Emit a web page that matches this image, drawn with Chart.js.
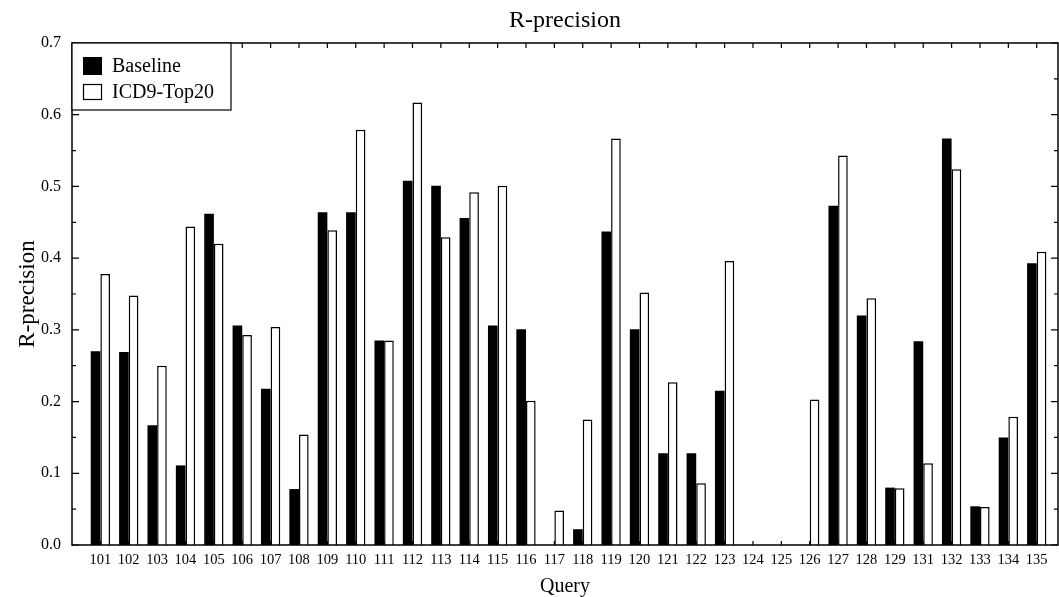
<!DOCTYPE html>
<html>
<head>
<meta charset="utf-8">
<script src="https://cdn.jsdelivr.net/npm/chart.js@4/dist/chart.umd.min.js"></script>
<style>
  html, body { margin: 0; padding: 0; background: #fff; }
  #wrap { width: 1059px; height: 597px; }
</style>
</head>
<body>
<div id="wrap"><canvas id="chart" width="1059" height="597"></canvas></div>
<script>
// query ids (130 is missing in the original figure)
const queries = ['101', '102', '103', '104', '105', '106', '107', '108', '109', '110', '111',
    '112', '113', '114', '115', '116', '117', '118', '119', '120', '121', '122', '123',
    '124', '125', '126', '127', '128', '129', '131', '132', '133', '134', '135']
const baseline = [0.270, 0.269, 0.167, 0.111, 0.462, 0.306, 0.218, 0.078, 0.464, 0.464, 0.285,
    0.508, 0.501, 0.456, 0.306, 0.301, 0.000, 0.022, 0.437, 0.301, 0.128, 0.128, 0.215,
    0.000, 0.000, 0.000, 0.473, 0.320, 0.080, 0.284, 0.567, 0.054, 0.150, 0.393]
const icd9top20 = [0.378, 0.348, 0.250, 0.444, 0.420, 0.293, 0.304, 0.154, 0.439, 0.579, 0.285,
    0.617, 0.429, 0.492, 0.501, 0.201, 0.048, 0.175, 0.567, 0.352, 0.227, 0.086, 0.396,
    0.000, 0.000, 0.203, 0.543, 0.344, 0.079, 0.114, 0.524, 0.053, 0.179, 0.409]
const yTicks = [0, 0.1, 0.2, 0.3, 0.4, 0.5, 0.6, 0.7]

Chart.defaults.font.family = "'Liberation Serif', 'DejaVu Serif', serif"
Chart.defaults.color = '#000'

const toPoints = arr => arr.map((v, i) => ({x: i, y: v}))

// frame, inward ticks and the boxed legend
const framePlugin = {
    id: 'frame',
    afterDatasetsDraw(chart) {
        const ctx = chart.ctx
        const {left, right, top, bottom} = chart.chartArea
        const xs = chart.scales.x
        const ys = chart.scales.y
        ctx.save()
        ctx.strokeStyle = '#000'
        ctx.lineWidth = 1.5
        ctx.strokeRect(left, top, right - left, bottom - top)

        ctx.lineWidth = 1.2
        ctx.beginPath()
        for (let k = 0; k <= 14; k++) {
            const y = ys.getPixelForValue(k * 0.05)
            const len = k % 2 === 0 ? 7 : 4
            ctx.moveTo(left, y); ctx.lineTo(left + len, y)
            ctx.moveTo(right, y); ctx.lineTo(right - len, y)
        }
        queries.forEach((q, i) => {
            const x = xs.getPixelForValue(i)
            ctx.moveTo(x, top); ctx.lineTo(x, top + 5)
            ctx.moveTo(x, bottom); ctx.lineTo(x, bottom - 4)
        })
        ctx.stroke()

        // legend box
        const lx = left, ly = top, lw = 159, lh = 67
        ctx.fillStyle = '#fff'
        ctx.fillRect(lx, ly, lw, lh)
        ctx.lineWidth = 1.2
        ctx.strokeRect(lx, ly, lw, lh)
        const ds = chart.data.datasets
        ctx.font = "20px 'Liberation Serif', serif"
        ctx.textBaseline = 'middle'
        ctx.textAlign = 'left'
        ctx.fillStyle = '#000'
        ctx.fillRect(lx + 11, ly + 14, 19, 18)
        ctx.fillText(ds[0].label, lx + 40, ly + 24)
        ctx.fillStyle = '#fff'
        ctx.fillRect(lx + 11, ly + 41, 19, 16)
        ctx.strokeRect(lx + 11.5, ly + 41.5, 18, 15)
        ctx.fillStyle = '#000'
        ctx.fillText(ds[1].label, lx + 40, ly + 50)
        ctx.restore()
    }
}

new Chart(document.getElementById('chart'), {
    type: 'bar',
    data: {
        datasets: [{
            label: 'Baseline',
            data: toPoints(baseline),
            backgroundColor: '#000',
            borderWidth: 0,
        }, {
            label: 'ICD9-Top20',
            data: toPoints(icd9top20),
            backgroundColor: '#fff',
            borderColor: '#000',
            borderWidth: 1.5,
        }]
    },
    options: {
        responsive: false,
        animation: false,
        devicePixelRatio: 1,
        categoryPercentage: 0.68,
        barPercentage: 1.0,
        layout: {padding: {left: 0, right: 1, top: 0, bottom: 0}},
        plugins: {
            legend: {display: false},
            tooltip: {enabled: false},
            title: {
                display: true,
                fullSize: false,
                text: 'R-precision',
                font: {size: 24, weight: 'normal'},
                color: '#000',
                padding: {top: 6, bottom: 8.2}
            }
        },
        scales: {
            x: {
                type: 'linear',
                offset: false,
                min: -1,
                max: 33.75,
                grid: {display: false, offset: false},
                border: {display: false},
                afterFit: s => { s.height = 52 },
                ticks: {
                    stepSize: 1,
                    autoSkip: false,
                    includeBounds: false,
                    maxRotation: 0,
                    padding: -2,
                    font: {size: 14.5},
                    callback: v => queries[v] !== undefined ? queries[v] : ''
                },
                title: {display: true, text: 'Query', font: {size: 20}, padding: {top: 0, bottom: -2}}
            },
            y: {
                min: 0,
                max: 0.7,
                grid: {display: false},
                border: {display: false},
                afterFit: s => { s.width = 72 },
                afterBuildTicks: s => { s.ticks = yTicks.map(v => ({value: v})) },
                ticks: {
                    padding: 3,
                    font: {size: 16},
                    callback: v => v.toFixed(1)
                },
                title: {display: true, text: 'R-precision', font: {size: 23}, padding: {top: 14, bottom: 0}}
            }
        }
    },
    plugins: [framePlugin]
})
</script>
</body>
</html>
